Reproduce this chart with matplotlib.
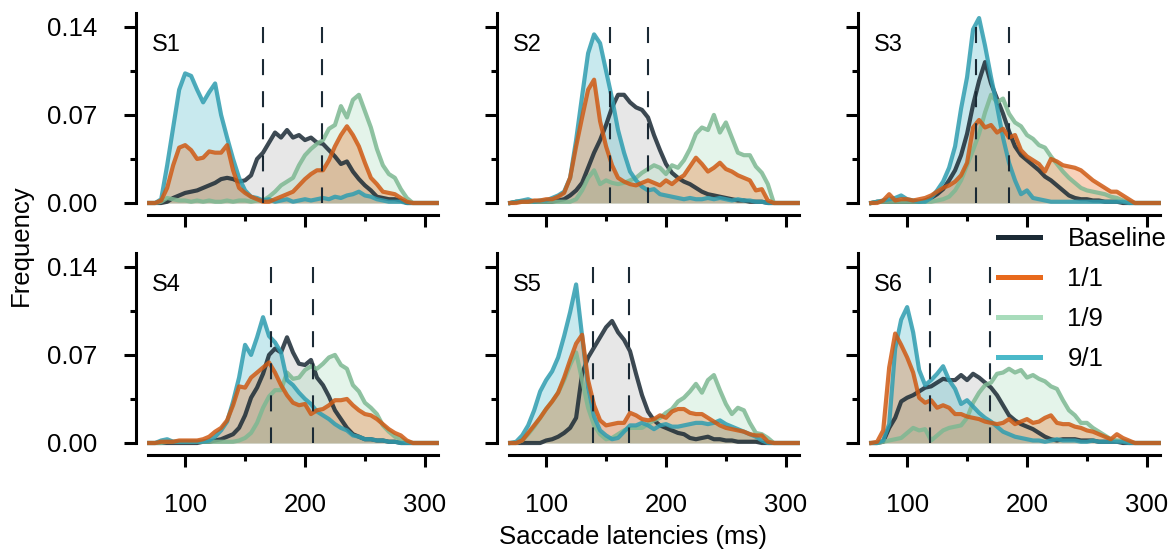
import numpy as np
import matplotlib.pyplot as plt
from matplotlib.lines import Line2D

plt.rcParams['font.family'] = ['Liberation Sans', 'DejaVu Sans']

# latency bins (ms), 5 ms wide
latency = np.arange(70, 311, 5)

# ---- S1 ----
s1_base = [0, 0, 0, 0.001, 0.004, 0.006, 0.008, 0.009, 0.01, 0.012,
           0.014, 0.016, 0.019, 0.02, 0.019, 0.017, 0.018, 0.022, 0.035, 0.04,
           0.048, 0.056, 0.052, 0.058, 0.052, 0.054, 0.05, 0.052, 0.048, 0.047,
           0.042, 0.037, 0.031, 0.033, 0.025, 0.019, 0.014, 0.01, 0.005, 0.004,
           0.003, 0.003, 0.002, 0, 0, 0, 0, 0, 0]
s1_11 = [0, 0, 0.002, 0.012, 0.03, 0.044, 0.046, 0.042, 0.035, 0.036,
         0.041, 0.04, 0.04, 0.046, 0.026, 0.012, 0.008, 0.005, 0.003, 0.001,
         0.001, 0.003, 0.005, 0.007, 0.009, 0.014, 0.019, 0.023, 0.026, 0.026,
         0.034, 0.045, 0.054, 0.061, 0.054, 0.045, 0.032, 0.02, 0.015, 0.009,
         0.008, 0.007, 0.004, 0.001, 0, 0, 0, 0, 0]
s1_19 = [0, 0, 0.001, 0.004, 0.003, 0.002, 0.002, 0.001, 0.002, 0.001,
         0.002, 0.001, 0.001, 0.002, 0.001, 0.002, 0.002, 0.001, 0.002, 0.002,
         0.005, 0.009, 0.014, 0.017, 0.02, 0.03, 0.038, 0.043, 0.047, 0.05,
         0.059, 0.062, 0.077, 0.068, 0.082, 0.086, 0.073, 0.06, 0.043, 0.03,
         0.023, 0.02, 0.011, 0.004, 0, 0, 0, 0, 0]
s1_91 = [0, 0, 0.003, 0.03, 0.06, 0.09, 0.103, 0.101, 0.09, 0.08,
         0.088, 0.095, 0.07, 0.052, 0.035, 0.02, 0.01, 0.005, 0.004, 0.002,
         0.003, 0.001, 0.002, 0.003, 0.001, 0.002, 0.003, 0.002, 0.003, 0.004,
         0.003, 0.005, 0.004, 0.006, 0.007, 0.009, 0.006, 0.005, 0.003, 0.002,
         0.001, 0.001, 0.001, 0, 0, 0, 0, 0, 0]

# ---- S2 ----
s2_base = [0, 0.001, 0.001, 0.001, 0.001, 0.001, 0.001, 0.001, 0.002, 0.003,
           0.006, 0.01, 0.016, 0.028, 0.04, 0.05, 0.062, 0.076, 0.086, 0.086,
           0.08, 0.076, 0.074, 0.068, 0.054, 0.042, 0.031, 0.024, 0.02, 0.017,
           0.015, 0.012, 0.009, 0.007, 0.006, 0.005, 0.004, 0.003, 0.002, 0.002,
           0.001, 0.001, 0.001, 0, 0, 0, 0, 0, 0]
s2_11 = [0, 0, 0.001, 0.001, 0.002, 0.002, 0.003, 0.003, 0.005, 0.008,
         0.02, 0.045, 0.068, 0.09, 0.098, 0.065, 0.045, 0.03, 0.02, 0.017,
         0.015, 0.014, 0.016, 0.018, 0.016, 0.014, 0.018, 0.015, 0.019, 0.022,
         0.029, 0.036, 0.031, 0.025, 0.028, 0.032, 0.027, 0.025, 0.022, 0.02,
         0.018, 0.01, 0.011, 0.002, 0, 0, 0, 0, 0]
s2_19 = [0, 0.001, 0.001, 0.001, 0.001, 0.001, 0.001, 0.001, 0.001, 0.001,
         0.001, 0.003, 0.01, 0.02, 0.026, 0.015, 0.018, 0.016, 0.015, 0.016,
         0.018, 0.02, 0.024, 0.027, 0.03, 0.028, 0.023, 0.03, 0.028, 0.034,
         0.043, 0.055, 0.06, 0.058, 0.07, 0.056, 0.064, 0.052, 0.04, 0.038,
         0.038, 0.029, 0.024, 0.015, 0, 0, 0, 0, 0]
s2_91 = [0, 0.001, 0.002, 0.003, 0.001, 0.002, 0.002, 0.004, 0.006, 0.009,
         0.02, 0.05, 0.085, 0.119, 0.134, 0.127, 0.105, 0.083, 0.058, 0.04,
         0.025, 0.018, 0.013, 0.01, 0.011, 0.007, 0.006, 0.005, 0.004, 0.003,
         0.004, 0.003, 0.003, 0.004, 0.003, 0.004, 0.003, 0.002, 0.003, 0.002,
         0.002, 0.001, 0.001, 0, 0, 0, 0, 0, 0]

# ---- S3 ----
s3_base = [0, 0.001, 0.001, 0.001, 0.001, 0.001, 0.001, 0.001, 0.001, 0.002,
           0.004, 0.007, 0.011, 0.018, 0.026, 0.038, 0.055, 0.078, 0.097, 0.112,
           0.095, 0.083, 0.071, 0.057, 0.045, 0.038, 0.034, 0.03, 0.026, 0.021,
           0.018, 0.014, 0.01, 0.006, 0.004, 0.003, 0.003, 0.002, 0.002, 0.001,
           0.001, 0.001, 0, 0, 0, 0, 0, 0, 0]
s3_11 = [0, 0, 0.002, 0.007, 0.002, 0.003, 0.003, 0.002, 0.003, 0.004,
         0.006, 0.009, 0.012, 0.014, 0.017, 0.022, 0.032, 0.06, 0.066, 0.06,
         0.062, 0.056, 0.059, 0.052, 0.054, 0.042, 0.037, 0.034, 0.031, 0.025,
         0.035, 0.033, 0.03, 0.029, 0.028, 0.026, 0.022, 0.018, 0.015, 0.012,
         0.009, 0.009, 0.006, 0.003, 0, 0, 0, 0, 0]
s3_19 = [0, 0.001, 0.001, 0.001, 0.001, 0.001, 0.001, 0.001, 0.001, 0.001,
         0.001, 0.002, 0.003, 0.005, 0.01, 0.018, 0.03, 0.042, 0.055, 0.072,
         0.086, 0.08, 0.083, 0.071, 0.064, 0.061, 0.054, 0.051, 0.046, 0.044,
         0.037, 0.031, 0.025, 0.02, 0.016, 0.012, 0.01, 0.009, 0.008, 0.007,
         0.005, 0.004, 0.002, 0.001, 0, 0, 0, 0, 0]
s3_91 = [0, 0.001, 0.002, 0.003, 0.004, 0.006, 0.003, 0.002, 0.001, 0.001,
         0.004, 0.01, 0.017, 0.028, 0.045, 0.075, 0.1, 0.138, 0.147, 0.125,
         0.1, 0.077, 0.052, 0.032, 0.018, 0.007, 0.01, 0.004, 0.003, 0.002,
         0.001, 0.001, 0.001, 0.001, 0.001, 0.001, 0.001, 0.001, 0.001, 0.001,
         0.001, 0.001, 0.001, 0, 0, 0, 0, 0, 0]

# ---- S4 ----
s4_base = [0, 0, 0, 0, 0, 0, 0, 0, 0, 0.001,
           0.001, 0.002, 0.003, 0.005, 0.007, 0.012, 0.022, 0.036, 0.044, 0.055,
           0.07, 0.075, 0.072, 0.084, 0.072, 0.063, 0.062, 0.066, 0.052, 0.046,
           0.037, 0.026, 0.019, 0.012, 0.007, 0.005, 0.003, 0.003, 0.002, 0.002,
           0.001, 0.001, 0, 0, 0, 0, 0, 0, 0]
s4_11 = [0, 0, 0.001, 0.001, 0.001, 0.002, 0.002, 0.002, 0.002, 0.003,
         0.005, 0.009, 0.012, 0.018, 0.03, 0.045, 0.044, 0.052, 0.056, 0.06,
         0.064, 0.056, 0.046, 0.038, 0.032, 0.03, 0.031, 0.023, 0.026, 0.027,
         0.03, 0.034, 0.034, 0.035, 0.03, 0.026, 0.023, 0.022, 0.019, 0.015,
         0.011, 0.008, 0.006, 0.002, 0, 0, 0, 0, 0]
s4_19 = [0, 0, 0, 0.001, 0.001, 0.001, 0.001, 0.001, 0.001, 0.001,
         0.001, 0.001, 0.001, 0.001, 0.001, 0.002, 0.004, 0.008, 0.016, 0.028,
         0.037, 0.042, 0.042, 0.056, 0.051, 0.052, 0.058, 0.061, 0.059, 0.063,
         0.068, 0.07, 0.062, 0.059, 0.046, 0.041, 0.032, 0.028, 0.023, 0.014,
         0.009, 0.005, 0.003, 0.001, 0, 0, 0, 0, 0]
s4_91 = [0, 0, 0.002, 0.003, 0.001, 0.001, 0.001, 0.001, 0.001, 0.001,
         0.002, 0.005, 0.01, 0.017, 0.033, 0.052, 0.078, 0.07, 0.084, 0.1,
         0.085, 0.08, 0.072, 0.05, 0.046, 0.04, 0.035, 0.031, 0.025, 0.022,
         0.019, 0.015, 0.012, 0.01, 0.006, 0.005, 0.003, 0.003, 0.002, 0.002,
         0.001, 0.001, 0, 0, 0, 0, 0, 0, 0]

# ---- S5 ----
s5_base = [0, 0, 0, 0, 0, 0, 0.002, 0.003, 0.005, 0.008,
           0.012, 0.02, 0.055, 0.068, 0.076, 0.084, 0.092, 0.097, 0.088, 0.082,
           0.073, 0.055, 0.038, 0.025, 0.018, 0.014, 0.012, 0.01, 0.008, 0.007,
           0.004, 0.003, 0.004, 0.005, 0.003, 0.003, 0.002, 0.002, 0.001, 0.001,
           0.001, 0.001, 0, 0, 0, 0, 0, 0, 0]
s5_11 = [0, 0, 0.002, 0.008, 0.014, 0.02, 0.027, 0.033, 0.04, 0.052,
         0.066, 0.079, 0.086, 0.05, 0.03, 0.018, 0.014, 0.015, 0.016, 0.016,
         0.024, 0.022, 0.019, 0.018, 0.019, 0.022, 0.02, 0.025, 0.027, 0.027,
         0.024, 0.023, 0.023, 0.02, 0.017, 0.014, 0.012, 0.011, 0.01, 0.009,
         0.007, 0.006, 0.006, 0.001, 0, 0, 0, 0, 0]
s5_19 = [0, 0, 0.002, 0.007, 0.013, 0.02, 0.027, 0.033, 0.04, 0.05,
         0.062, 0.072, 0.05, 0.028, 0.014, 0.007, 0.003, 0.004, 0.007, 0.01,
         0.012, 0.012, 0.012, 0.015, 0.018, 0.02, 0.024, 0.027, 0.033, 0.036,
         0.041, 0.047, 0.04, 0.05, 0.054, 0.042, 0.031, 0.023, 0.028, 0.026,
         0.016, 0.008, 0.007, 0.004, 0, 0, 0, 0, 0]
s5_91 = [0, 0.001, 0.006, 0.014, 0.026, 0.041, 0.05, 0.057, 0.068, 0.085,
         0.104, 0.126, 0.085, 0.044, 0.021, 0.01, 0.006, 0.003, 0.004, 0.009,
         0.014, 0.014, 0.016, 0.014, 0.011, 0.014, 0.015, 0.013, 0.013, 0.014,
         0.015, 0.016, 0.016, 0.015, 0.016, 0.018, 0.015, 0.013, 0.011, 0.009,
         0.007, 0.005, 0.002, 0, 0, 0, 0, 0, 0]

# ---- S6 ----
s6_base = [0, 0, 0.001, 0.012, 0.02, 0.033, 0.036, 0.038, 0.041, 0.044,
           0.045, 0.048, 0.051, 0.05, 0.05, 0.054, 0.05, 0.055, 0.052, 0.048,
           0.044, 0.038, 0.03, 0.022, 0.018, 0.015, 0.013, 0.011, 0.008, 0.005,
           0.003, 0.002, 0.003, 0.003, 0.003, 0.002, 0.002, 0.002, 0.001, 0.001,
           0.001, 0.001, 0, 0, 0, 0, 0, 0, 0]
s6_11 = [0, 0.001, 0.01, 0.06, 0.087, 0.078, 0.068, 0.056, 0.036, 0.032,
         0.034, 0.028, 0.03, 0.028, 0.023, 0.023, 0.021, 0.02, 0.019, 0.017,
         0.016, 0.015, 0.016, 0.019, 0.015, 0.017, 0.019, 0.016, 0.017, 0.02,
         0.022, 0.016, 0.015, 0.015, 0.013, 0.012, 0.01, 0.009, 0.007, 0.005,
         0.003, 0.007, 0.004, 0.002, 0, 0, 0, 0, 0]
s6_19 = [0, 0, 0.001, 0.002, 0.003, 0.004, 0.008, 0.012, 0.01, 0.011,
         0.002, 0.006, 0.01, 0.012, 0.013, 0.014, 0.02, 0.032, 0.04, 0.046,
         0.048, 0.055, 0.056, 0.059, 0.056, 0.058, 0.052, 0.054, 0.051, 0.049,
         0.045, 0.043, 0.034, 0.026, 0.022, 0.016, 0.016, 0.012, 0.009, 0.006,
         0.003, 0.002, 0.002, 0.001, 0, 0, 0, 0, 0]
s6_91 = [0, 0, 0.002, 0.015, 0.075, 0.098, 0.108, 0.088, 0.058, 0.046,
         0.05, 0.055, 0.061, 0.05, 0.043, 0.031, 0.034, 0.029, 0.024, 0.02,
         0.017, 0.013, 0.009, 0.007, 0.005, 0.004, 0.003, 0.002, 0.002, 0.001,
         0.002, 0.003, 0.002, 0.002, 0.002, 0.001, 0.001, 0.002, 0.001, 0.001,
         0.001, 0.001, 0.001, 0, 0, 0, 0, 0, 0]

# dashed markers (ms) per subject
s_names = ['S1', 'S2', 'S3', 'S4', 'S5', 'S6']
dash_lo = [165, 153, 157.5, 171.5, 139.5, 119]
dash_hi = [214, 185, 185, 206.5, 169.5, 169]

subjects = [
    {'Baseline': s1_base, '1/1': s1_11, '1/9': s1_19, '9/1': s1_91},
    {'Baseline': s2_base, '1/1': s2_11, '1/9': s2_19, '9/1': s2_91},
    {'Baseline': s3_base, '1/1': s3_11, '1/9': s3_19, '9/1': s3_91},
    {'Baseline': s4_base, '1/1': s4_11, '1/9': s4_19, '9/1': s4_91},
    {'Baseline': s5_base, '1/1': s5_11, '1/9': s5_19, '9/1': s5_91},
    {'Baseline': s6_base, '1/1': s6_11, '1/9': s6_19, '9/1': s6_91},
]

legend_order = ['Baseline', '1/1', '1/9', '9/1']
draw_order = ['Baseline', '1/9', '9/1', '1/1']
line_col = {'Baseline': '#1b2a35', '1/1': '#cf5a14', '1/9': '#7db892', '9/1': '#2f9db0'}
leg_col = {'Baseline': '#1b2a35', '1/1': '#e8691c', '1/9': '#a8dcbb', '9/1': '#4ab9c9'}
fill_col = {'Baseline': '#b0b0b0', '1/1': '#e8691c', '1/9': '#a8dcbb', '9/1': '#4ab9c9'}

FS = 18.5
W, H = 1175, 555
fig = plt.figure(figsize=(W / 100, H / 100), dpi=100)

col_left = [148, 509, 870]
row_top = [13, 253]
aw, ah = 290, 190

for i, name in enumerate(s_names):
    r, c = divmod(i, 3)
    ax = fig.add_axes([col_left[c] / W, 1 - (row_top[r] + ah) / H, aw / W, ah / H])
    data = subjects[i]
    for cond in draw_order:
        y = np.array(data[cond])
        ax.fill_between(latency, 0, y, color=fill_col[cond], alpha=0.3, lw=0)
        ax.plot(latency, y, color=line_col[cond], lw=3.0, alpha=0.85, clip_on=False)
    # dashed markers, drawn top-down so the pattern starts at 0.14
    for xd in (dash_lo[i], dash_hi[i]):
        ax.plot([xd, xd], [0.14, 0], color='#1b2a35', lw=1.5,
                linestyle=(0, (7.7, 7.7)), zorder=10)
    ax.text(0.015, 0.834, name, transform=ax.transAxes, fontsize=17, va='center')

    ax.set_xlim(69, 311)
    ax.set_ylim(0, 0.151)
    for side in ['top', 'right']:
        ax.spines[side].set_visible(False)
    for side in ['left', 'bottom']:
        ax.spines[side].set_position(('outward', 8.6))
        ax.spines[side].set_linewidth(2.2)
    ax.set_xticks([100, 200, 300])
    ax.set_xticks([150, 250], minor=True)
    ax.set_yticks([0, 0.07, 0.14])
    ax.set_yticks([0.035, 0.105], minor=True)
    ax.set_yticklabels(['0.00', '0.07', '0.14'])
    ax.tick_params(which='major', length=8.6, width=2.2, labelsize=FS, pad=19)
    ax.tick_params(which='minor', length=4.3, width=2.2)
    ax.tick_params(labelleft=(c == 0), labelbottom=(r == 1))

handles = [Line2D([], [], color=leg_col[k], lw=3.6) for k in legend_order]
fig.legend(handles, legend_order, loc='upper left', bbox_to_anchor=(998 / W, 1 - 227 / H),
           frameon=False, fontsize=FS, handlelength=1.65, handletextpad=1.05,
           labelspacing=0.62, borderpad=0, borderaxespad=0)

fig.text(21 / W, 1 - 245 / H, 'Frequency', rotation=90, ha='center', va='center', fontsize=FS)
fig.text(633 / W, 1 - 537 / H, 'Saccade latencies (ms)', ha='center', va='center', fontsize=FS)

fig.savefig('out.png', dpi=100)
